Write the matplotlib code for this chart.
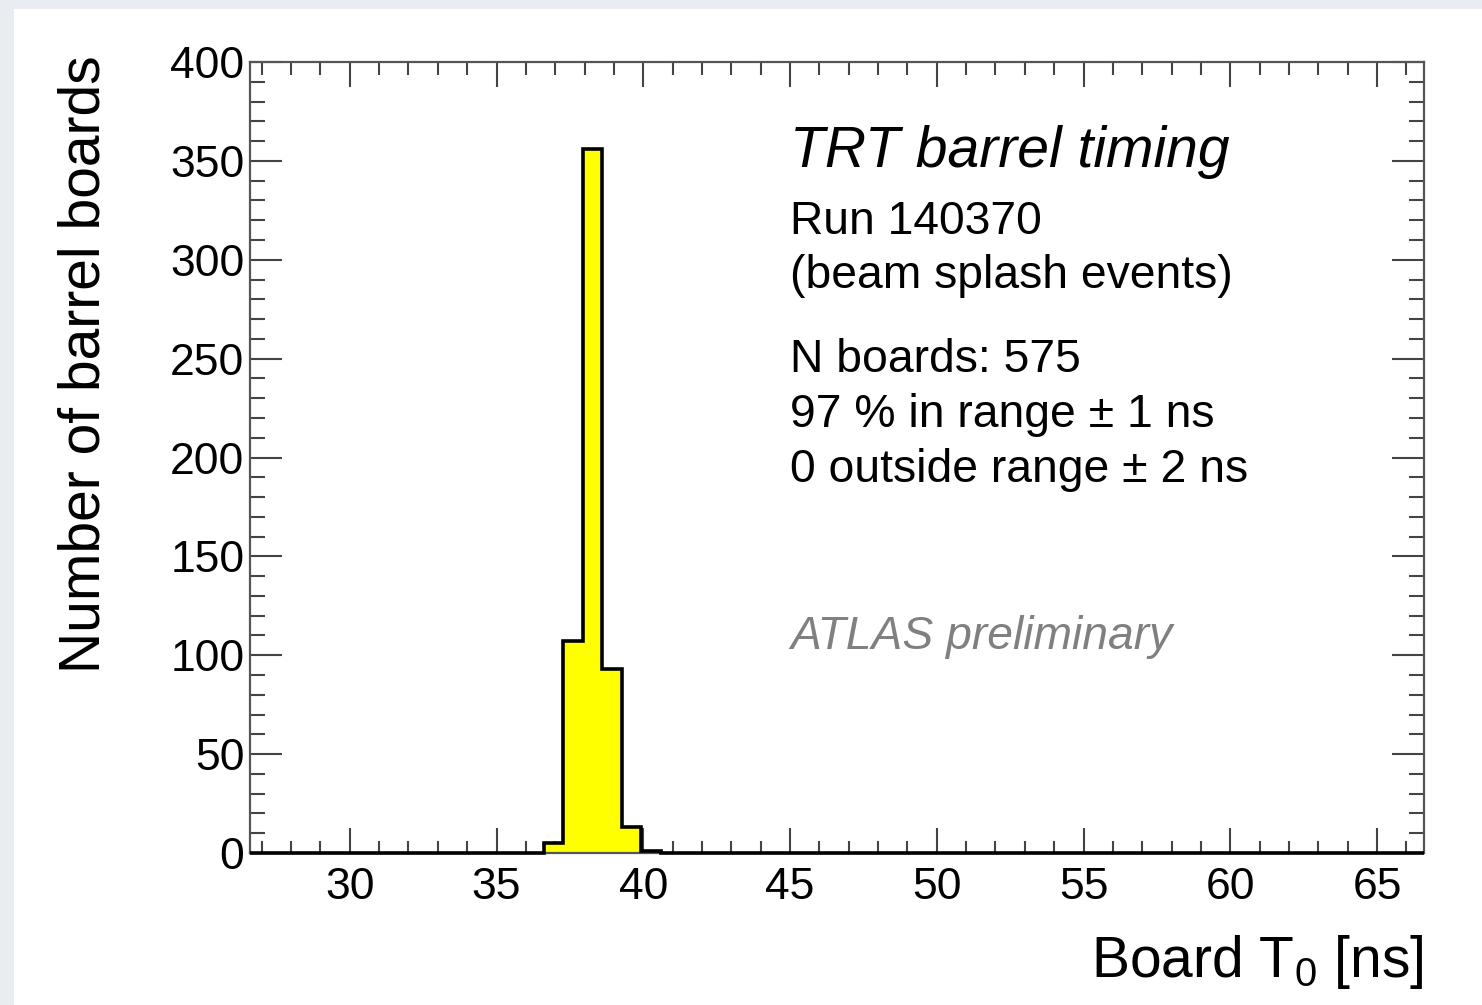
import numpy as np
import matplotlib
matplotlib.use("Agg")
import matplotlib.pyplot as plt
from matplotlib.ticker import MultipleLocator
from matplotlib.patches import Rectangle

plt.rcParams["font.family"] = ["Liberation Sans", "DejaVu Sans"]
plt.rcParams["mathtext.fontset"] = "custom"
plt.rcParams["mathtext.rm"] = "Liberation Sans"
plt.rcParams["mathtext.it"] = "Liberation Sans:italic"

# Histogram binning: 60 bins of 2/3 ns
x_min, x_max, n_bins = 26.6, 66.6, 60
# Filled bins (index into the 60 bins) and their board counts
filled_bins = [15, 16, 17, 18, 19, 20]
filled_counts = [5, 107, 356, 93, 13, 1]

info_lines = [
    "Run 140370",
    "(beam splash events)",
    "N boards: 575",
    "97 % in range \u00b1 1 ns",
    "0 outside range \u00b1 2 ns",
]

edges = np.linspace(x_min, x_max, n_bins + 1)
counts = np.zeros(n_bins)
counts[filled_bins] = filled_counts

W, H = 1482, 1005
fig = plt.figure(figsize=(W / 100, H / 100), dpi=100, facecolor="#e9ecf0")
# white page area behind the plot
fig.patches.append(Rectangle((14 / W, 0), 1, 1 - 9 / H, transform=fig.transFigure,
                             facecolor="white", edgecolor="none", zorder=-10))

ax = fig.add_axes([250 / W, 1 - 853 / H, (1424 - 250) / W, (853 - 62) / H])
ax.set_zorder(2)
ax.set_facecolor("white")

ax.stairs(counts, edges, fill=True, color="#ffff00", zorder=2)
ax.stairs(counts, edges, color="black", linewidth=2.6, zorder=3, clip_on=False)

ax.set_xlim(x_min, x_max)
ax.set_ylim(0, 400)

ax.xaxis.set_major_locator(MultipleLocator(5))
ax.xaxis.set_minor_locator(MultipleLocator(1))
ax.yaxis.set_major_locator(MultipleLocator(50))
ax.yaxis.set_minor_locator(MultipleLocator(10))

for s in ax.spines.values():
    s.set_color("#555555")
    s.set_linewidth(1.6)

ax.tick_params(axis="x", which="both", direction="in", top=True, bottom=True,
               color="#444444", width=1.5, labelsize=32, pad=10)
ax.tick_params(axis="x", which="major", length=18)
ax.tick_params(axis="x", which="minor", length=9)
ax.tick_params(axis="y", which="both", direction="in", left=True, right=True,
               color="#444444", width=1.5, labelsize=32, pad=4)
ax.tick_params(axis="y", which="major", length=23)
ax.tick_params(axis="y", which="minor", length=11)

# axis titles, ROOT style (aligned to the axis ends)
fig.text(85 / W, 1 - 55 / H, "Number of barrel boards", rotation=90,
         ha="center", va="top", fontsize=41)
fig.text(1424 / W, 1 - 962 / H, r"Board T$_{\mathrm{0}}$ [ns]",
         ha="right", va="center", fontsize=41)

ax.text(0.46, 0.886, "TRT barrel timing", transform=ax.transAxes,
        fontsize=41, style="italic", va="center", ha="left")
line_y = [0.798, 0.7295, 0.6233, 0.5537, 0.4842]
for txt, yy in zip(info_lines, line_y):
    ax.text(0.46, yy, txt, transform=ax.transAxes, fontsize=33.3,
            va="center", ha="left")
ax.text(0.46, 0.273, "ATLAS preliminary", transform=ax.transAxes,
        fontsize=33.3, style="italic", color="#808080", va="center", ha="left")

fig.savefig("out.png", dpi=100, facecolor=fig.get_facecolor())
